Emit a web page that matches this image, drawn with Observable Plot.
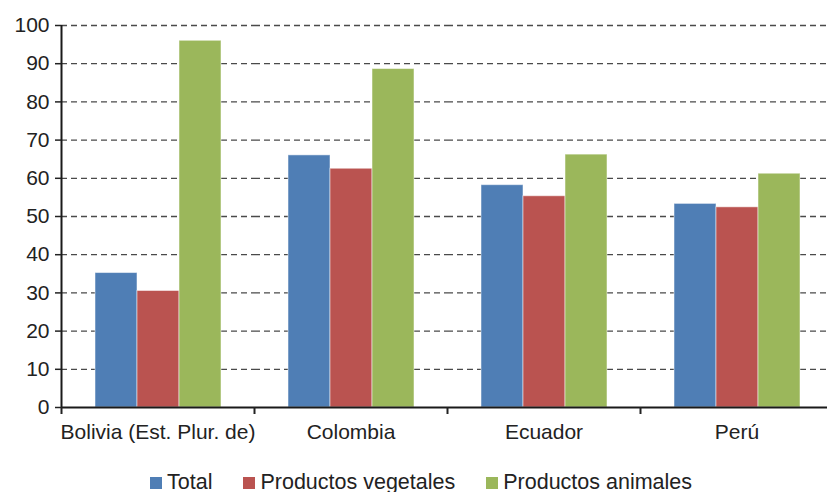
<!DOCTYPE html>
<html><head><meta charset="utf-8">
<script src="https://cdn.jsdelivr.net/npm/d3@7"></script>
<script src="https://cdn.jsdelivr.net/npm/@observablehq/plot@0.6"></script>
<style>
body{margin:0;background:#fff;font-family:"Liberation Sans",Arial,sans-serif;overflow:hidden;color:#222}
#legend{display:flex;align-items:center;padding-left:150px;padding-top:13px;height:19px;font-size:21.5px;line-height:19px;color:#222}
#legend .item{display:flex;align-items:center;margin-right:31px}
#legend .sw{width:12px;height:12px;margin-right:5px}
</style></head><body><div id="chart"></div><div id="legend"></div>
<script>
const countries = ["Bolivia (Est. Plur. de)", "Colombia", "Ecuador", "Perú"];
const seriesNames = ["Total", "Productos vegetales", "Productos animales"];
const total = [35.2, 66.0, 58.2, 53.3];
const vegetales = [30.5, 62.5, 55.3, 52.4];
const animales = [96.0, 88.6, 66.2, 61.2];
const colors = ["#4F7EB5", "#BA5350", "#9BB75B"];
const yTicks = [0, 10, 20, 30, 40, 50, 60, 70, 80, 90, 100];

const seriesValues = [total, vegetales, animales];
const rows = [];
countries.forEach((c, i) => seriesNames.forEach((s, j) => rows.push({country: c, series: s, value: seriesValues[j][i]})));

const W = 827, H = 460, mL = 61, mR = -6;
const facetW = (W - mL - mR) / countries.length;

const chart = Plot.plot({
  width: W, height: H,
  marginLeft: mL, marginRight: mR, marginTop: 25, marginBottom: 53,
  style: {fontSize: "21px", fontFamily: "'Liberation Sans', Arial, sans-serif", color: "#222", background: "#fff", overflow: "visible"},
  fx: {domain: countries, padding: 0, label: null},
  x: {domain: seriesNames, paddingInner: 0, paddingOuter: 0.75, axis: null},
  y: {domain: [0, 100], label: null},
  color: {domain: seriesNames, range: colors},
  marks: [
    Plot.gridY(yTicks.filter(v => v > 0), {stroke: "#4a4a4a", strokeOpacity: 1, strokeWidth: 1.3, strokeDasharray: "6,4"}),
    Plot.barY(rows, {fx: "country", x: "series", y: "value", fill: "series", stroke: "#fff", strokeOpacity: 0.5, strokeWidth: 1}),
    Plot.ruleY([0], {stroke: "#1a1a1a", strokeWidth: 2}),
    Plot.ruleX([countries[0]], {fx: d => d, x: null, y1: 0, y2: 100, dx: -facetW / 2, stroke: "#1a1a1a", strokeWidth: 2}),
    Plot.axisY(yTicks, {tickSize: 6, tickPadding: 6, label: null, strokeWidth: 1.5}),
    Plot.axisFx({anchor: "bottom", tickSize: 0, tickPadding: 17, label: null}),
    Plot.axisFx({anchor: "bottom", tickSize: 7, tickFormat: () => "", dx: -facetW / 2, label: null, strokeWidth: 2})
  ]
});
document.getElementById("chart").appendChild(chart);

const leg = document.getElementById("legend");
seriesNames.forEach((s, i) => {
  const it = document.createElement("div"); it.className = "item";
  const sw = document.createElement("span"); sw.className = "sw"; sw.style.background = colors[i];
  const tx = document.createElement("span"); tx.textContent = s;
  it.appendChild(sw); it.appendChild(tx); leg.appendChild(it);
});
</script></body></html>
